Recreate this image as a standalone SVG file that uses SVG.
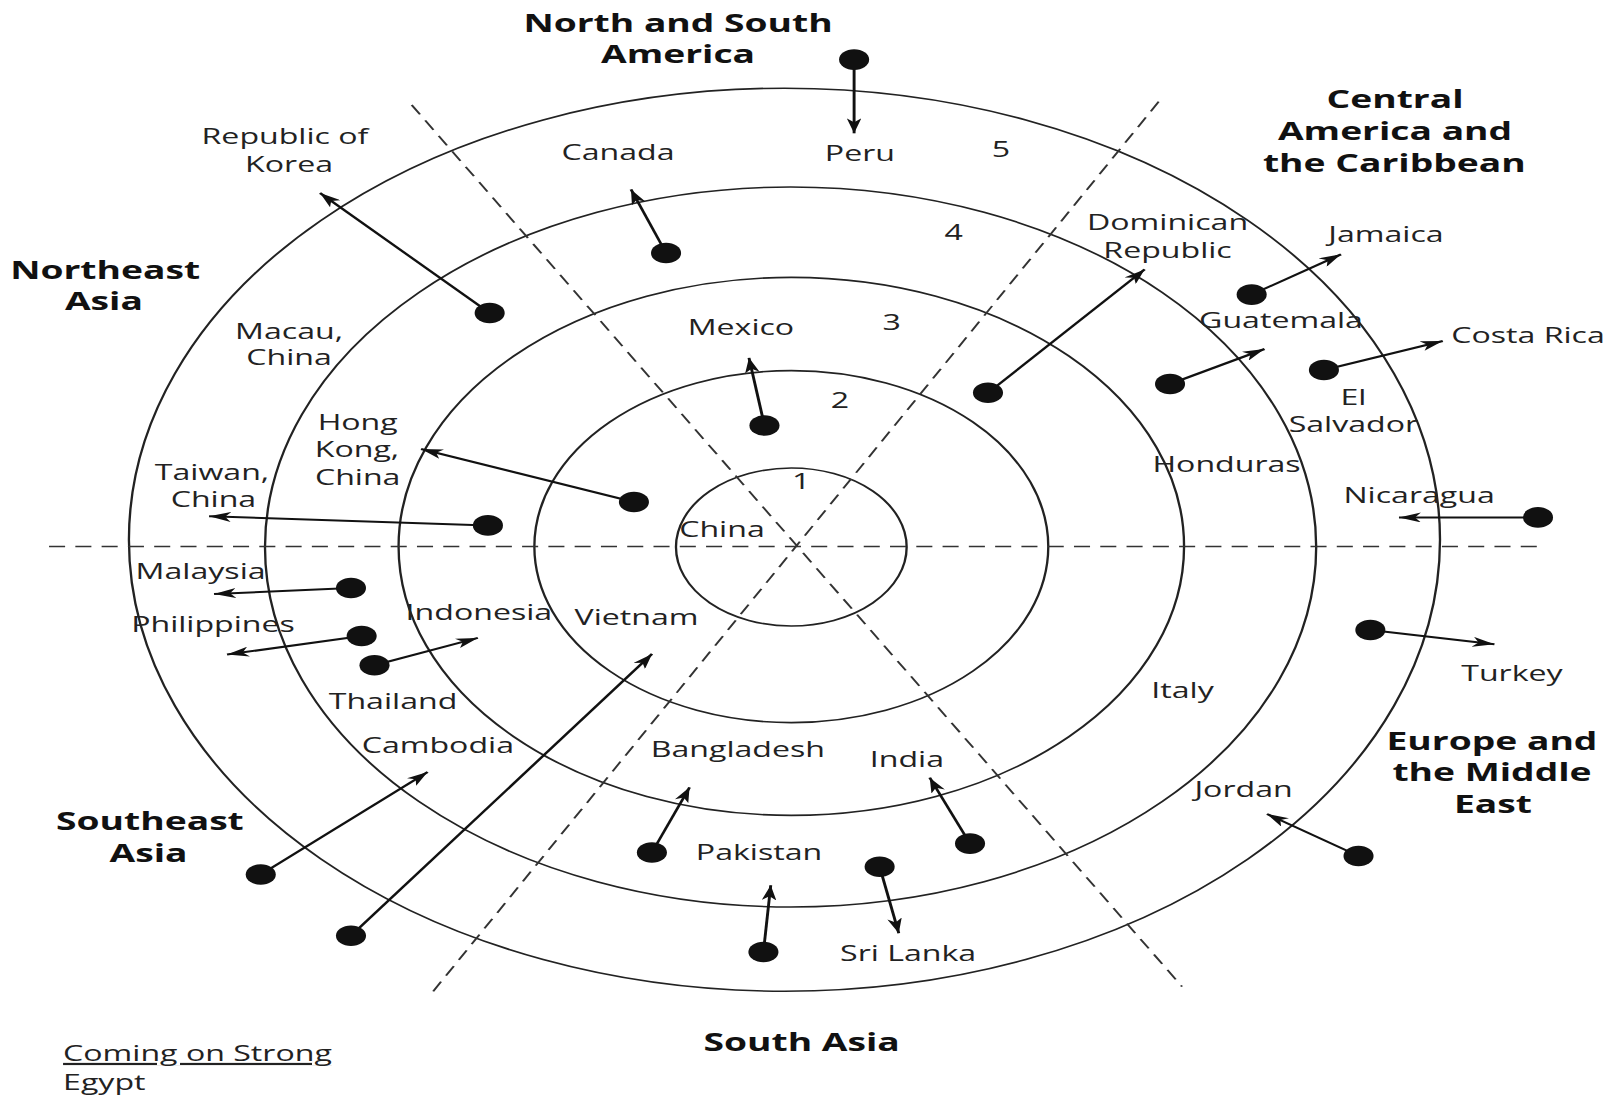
<svg xmlns="http://www.w3.org/2000/svg" width="1619" height="1098" viewBox="0 0 1619 1098">
<style>
.c{fill:none;stroke:#222;stroke-width:1.6}
.d{fill:none;stroke:#333;stroke-width:1.5;stroke-dasharray:11 7}
.a{fill:none;stroke:#111;stroke-width:2;marker-end:url(#ah)}
.dot{fill:#111}
text{font-family:"Open Sans","Noto Sans",sans-serif;font-size:22px;fill:#222;text-anchor:middle}
text.h{font-weight:bold;font-size:25.5px;fill:#111}
</style>
<defs>
<marker id="ah" markerUnits="userSpaceOnUse" markerWidth="16" markerHeight="10" refX="15" refY="5" orient="auto" viewBox="0 0 16 10">
<path d="M0,0 L15,5 L0,10 L4,5 Z" fill="#111"/>
</marker>
</defs>
<rect width="1619" height="1098" fill="#fff"/>
<g transform="scale(1.46,1)">
<g id="rings">
<circle class="c" cx="542" cy="547" r="79"/>
<circle class="c" cx="542" cy="546.6" r="176"/>
<circle class="c" cx="542" cy="546.4" r="269"/>
<circle class="c" cx="541.5" cy="547" r="360"/>
<ellipse class="c" cx="537.3" cy="539.7" rx="449" ry="451.5"/>
</g>
<g id="dividers">
<line class="d" x1="33.6" y1="546.5" x2="1057" y2="546.5"/>
<line class="d" x1="282" y1="105" x2="809.6" y2="986.6"/>
<line class="d" x1="793.6" y1="101.7" x2="295.4" y2="993.7"/>
</g>
<g id="connectors">
<line class="a" x1="335.4" y1="313" x2="219.2" y2="193"/><circle class="dot" cx="335.4" cy="313" r="10.3"/>
<line class="a" x1="456.2" y1="253" x2="432.2" y2="189.4"/><circle class="dot" cx="456.2" cy="253" r="10.3"/>
<line class="a" x1="585" y1="59.6" x2="585" y2="133.3"/><circle class="dot" cx="585" cy="59.6" r="10.3"/>
<line class="a" x1="523.6" y1="425.5" x2="513" y2="357.8"/><circle class="dot" cx="523.6" cy="425.5" r="10.3"/>
<line class="a" x1="434.2" y1="502" x2="288.4" y2="449"/><circle class="dot" cx="434.2" cy="502" r="10.3"/>
<line class="a" x1="334.2" y1="525.4" x2="143.2" y2="516.3"/><circle class="dot" cx="334.2" cy="525.4" r="10.3"/>
<line class="a" x1="857.3" y1="294.6" x2="918.5" y2="254.3"/><circle class="dot" cx="857.3" cy="294.6" r="10.3"/>
<line class="a" x1="676.7" y1="392.8" x2="784" y2="269.4"/><circle class="dot" cx="676.7" cy="392.8" r="10.3"/>
<line class="a" x1="801.4" y1="384" x2="866.1" y2="349"/><circle class="dot" cx="801.4" cy="384" r="10.3"/>
<line class="a" x1="906.8" y1="370" x2="988.2" y2="341"/><circle class="dot" cx="906.8" cy="370" r="10.3"/>
<line class="a" x1="1053.4" y1="517.4" x2="958.2" y2="517.4"/><circle class="dot" cx="1053.4" cy="517.4" r="10.3"/>
<line class="a" x1="240.4" y1="588" x2="146.6" y2="594"/><circle class="dot" cx="240.4" cy="588" r="10.3"/>
<line class="a" x1="247.7" y1="636" x2="155.5" y2="654.6"/><circle class="dot" cx="247.7" cy="636" r="10.3"/>
<line class="a" x1="256.5" y1="665.3" x2="327.3" y2="637.9"/><circle class="dot" cx="256.5" cy="665.3" r="10.3"/>
<line class="a" x1="178.6" y1="874.5" x2="292.9" y2="772"/><circle class="dot" cx="178.6" cy="874.5" r="10.3"/>
<line class="a" x1="240.4" y1="935.7" x2="446.6" y2="653.9"/><circle class="dot" cx="240.4" cy="935.7" r="10.3"/>
<line class="a" x1="446.5" y1="852.5" x2="472.3" y2="787.3"/><circle class="dot" cx="446.5" cy="852.5" r="10.3"/>
<line class="a" x1="522.9" y1="952" x2="527.9" y2="885.2"/><circle class="dot" cx="522.9" cy="952" r="10.3"/>
<line class="a" x1="664.4" y1="843.6" x2="636.8" y2="777.7"/><circle class="dot" cx="664.4" cy="843.6" r="10.3"/>
<line class="a" x1="602.5" y1="866.7" x2="615.6" y2="933.2"/><circle class="dot" cx="602.5" cy="866.7" r="10.3"/>
<line class="a" x1="938.6" y1="630" x2="1023.6" y2="644.3"/><circle class="dot" cx="938.6" cy="630" r="10.3"/>
<line class="a" x1="930.5" y1="856" x2="867.8" y2="814"/><circle class="dot" cx="930.5" cy="856" r="10.3"/>
</g>
<g id="region-nsa"><text class="h" x="464.4" y="31.6">North and South</text><text class="h" x="464.4" y="63">America</text></g>
<g id="region-cac"><text class="h" x="955.5" y="108">Central</text><text class="h" x="955.5" y="140">America and</text><text class="h" x="955" y="172">the Caribbean</text></g>
<g id="region-nea"><text class="h" x="72" y="279">Northeast</text><text class="h" x="71.2" y="310">Asia</text></g>
<g id="region-sea"><text class="h" x="102.7" y="830">Southeast</text><text class="h" x="101.7" y="862">Asia</text></g>
<g id="region-sa"><text class="h" x="549.1" y="1051">South Asia</text></g>
<g id="region-eme"><text class="h" x="1021.9" y="750">Europe and</text><text class="h" x="1021.9" y="781.3">the Middle</text><text class="h" x="1022.6" y="813">East</text></g>
<g id="ring-labels"><text x="548.7" y="489">1</text><text x="575.3" y="408">2</text><text x="610.7" y="330">3</text><text x="653.2" y="240">4</text><text x="685.6" y="157">5</text></g>
<g id="korea"><text x="195.2" y="144">Republic of</text><text x="198" y="172">Korea</text></g>
<g id="canada"><text x="423.3" y="160">Canada</text></g>
<g id="peru"><text x="589" y="161">Peru</text></g>
<g id="dominican"><text x="799.7" y="230">Dominican</text><text x="799.7" y="258">Republic</text></g>
<g id="jamaica"><text x="949.3" y="242">Jamaica</text></g>
<g id="macau"><text x="198" y="339.5">Macau,</text><text x="198" y="365">China</text></g>
<g id="mexico"><text x="507.5" y="335">Mexico</text></g>
<g id="guatemala"><text x="877.4" y="328">Guatemala</text></g>
<g id="costarica"><text x="1046.6" y="343">Costa Rica</text></g>
<g id="elsalvador"><text x="927" y="405">El</text><text x="927" y="432.5">Salvador</text></g>
<g id="hongkong"><text x="245" y="430">Hong</text><text x="244.5" y="457">Kong,</text><text x="245" y="485">China</text></g>
<g id="taiwan"><text x="145.2" y="480">Taiwan,</text><text x="146.2" y="507">China</text></g>
<g id="honduras"><text x="840.1" y="472">Honduras</text></g>
<g id="nicaragua"><text x="972" y="503">Nicaragua</text></g>
<g id="china"><text x="494.5" y="537">China</text></g>
<g id="malaysia"><text x="137.4" y="579">Malaysia</text></g>
<g id="philippines"><text x="145.9" y="631.8">Philippines</text></g>
<g id="indonesia"><text x="328" y="620">Indonesia</text></g>
<g id="vietnam"><text x="436" y="625.4">Vietnam</text></g>
<g id="thailand"><text x="269.2" y="709">Thailand</text></g>
<g id="cambodia"><text x="299.9" y="753.5">Cambodia</text></g>
<g id="bangladesh"><text x="505.4" y="757">Bangladesh</text></g>
<g id="india"><text x="621.2" y="766.7">India</text></g>
<g id="italy"><text x="810" y="698.4">Italy</text></g>
<g id="turkey"><text x="1035.6" y="680.6">Turkey</text></g>
<g id="jordan"><text x="851.8" y="797">Jordan</text></g>
<g id="pakistan"><text x="519.9" y="860.3">Pakistan</text></g>
<g id="srilanka"><text x="622" y="961">Sri Lanka</text></g>
<g id="legend"><text x="43.2" y="1061.3" style="text-anchor:start;text-decoration:underline">Coming on Strong</text><text x="43.2" y="1089.8" style="text-anchor:start">Egypt</text></g>
</g>
</svg>
